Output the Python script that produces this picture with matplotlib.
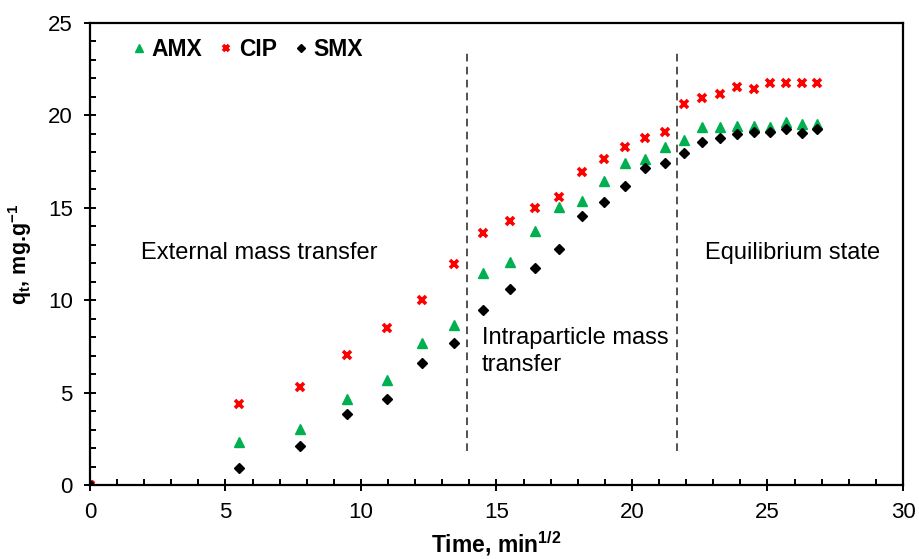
import matplotlib
matplotlib.use("Agg")
import matplotlib.pyplot as plt
from matplotlib.ticker import MultipleLocator

plt.rcParams['font.family'] = ['Liberation Sans', 'DejaVu Sans']
plt.rcParams['mathtext.fontset'] = 'custom'
plt.rcParams['mathtext.rm'] = 'Liberation Sans'
plt.rcParams['mathtext.bf'] = 'Liberation Sans:bold'
plt.rcParams['mathtext.it'] = 'Liberation Sans:italic'

# square root of time (min^1/2)
time_sqrt = [0, 5.48, 7.75, 9.49, 10.95, 12.25, 13.42, 14.49, 15.49, 16.43,
             17.32, 18.17, 18.97, 19.75, 20.49, 21.21, 21.91, 22.58, 23.24,
             23.87, 24.49, 25.10, 25.69, 26.27, 26.83]

amx = [0, 2.34, 3.01, 4.65, 5.68, 7.67, 8.66, 11.45, 12.09, 13.74,
       15.03, 15.38, 16.45, 17.41, 17.64, 18.27, 18.65, 19.37, 19.37,
       19.44, 19.44, 19.39, 19.66, 19.52, 19.52]

cip = [0, 4.37, 5.32, 7.03, 8.51, 10.01, 11.96, 13.62, 14.30, 14.97,
       15.60, 16.95, 17.66, 18.29, 18.76, 19.08, 20.62, 20.94, 21.14,
       21.52, 21.41, 21.74, 21.74, 21.74, 21.77]

smx = [0, 0.94, 2.11, 3.82, 4.67, 6.62, 7.67, 9.45, 10.61, 11.76,
       12.77, 14.57, 15.30, 16.20, 17.14, 17.41, 17.95, 18.54, 18.76,
       19.01, 19.12, 19.12, 19.28, 19.03, 19.28]

series_names = ['AMX', 'CIP', 'SMX']
boundaries = [13.9, 21.65]
region_labels = ['External mass transfer', 'Intraparticle mass\ntransfer', 'Equilibrium state']

fig = plt.figure(figsize=(9.2, 5.59), dpi=100)
ax = fig.add_axes([90/920, 1-485/559, (903-90)/920, (485-23)/559])

ax.plot(time_sqrt, amx, linestyle='none', marker='^', ms=7.5, color='#00B050',
        mec='#00B050', label=series_names[0], zorder=3)
ax.plot(time_sqrt, cip, linestyle='none', marker='x', ms=5.5, mew=2.6, color='#FF0000',
        label=series_names[1], zorder=3)
ax.plot(time_sqrt, smx, linestyle='none', marker='D', ms=5.5, color='black',
        label=series_names[2], zorder=4)

for b in boundaries:
    ax.plot([b, b], [1.85, 23.5], color='#222222', lw=1.1, linestyle=(0, (5, 3.5)), zorder=2)

ax.text(1.9, 12.55, region_labels[0], fontsize=17, va='center', ha='left')
ax.text(14.45, 7.2, region_labels[1], fontsize=17, va='center', ha='left', linespacing=1.3)
ax.text(22.69, 12.55, region_labels[2], fontsize=17, va='center', ha='left')

ax.set_xlim(0, 30)
ax.set_ylim(0, 25)
ax.xaxis.set_major_locator(MultipleLocator(5))
ax.xaxis.set_minor_locator(MultipleLocator(1))
ax.yaxis.set_major_locator(MultipleLocator(5))
ax.yaxis.set_minor_locator(MultipleLocator(1))
ax.tick_params(which='major', direction='inout', length=9, width=1.4, labelsize=16, pad=8)
ax.tick_params(which='minor', direction='in', length=4, width=1.4)
for s in ax.spines.values():
    s.set_linewidth(1.6)

ax.set_xlabel('Time, min$^{\\mathbf{1/2}}$', fontsize=16.5, fontweight='bold', labelpad=4.5)
ax.set_ylabel('q$_{\\mathbf{t}}$, mg.g$^{\\mathbf{-1}}$', fontsize=15.5, fontweight='bold', labelpad=10)

leg = ax.legend(loc='center left', bbox_to_anchor=(0.0517, 0.9416), ncol=3, frameon=False,
                prop={'weight': 'bold', 'size': 16.5}, handlelength=0.6, handletextpad=0.25,
                columnspacing=0.75, borderpad=0, borderaxespad=0, markerscale=0.8)

fig.savefig('out.png', dpi=100)
